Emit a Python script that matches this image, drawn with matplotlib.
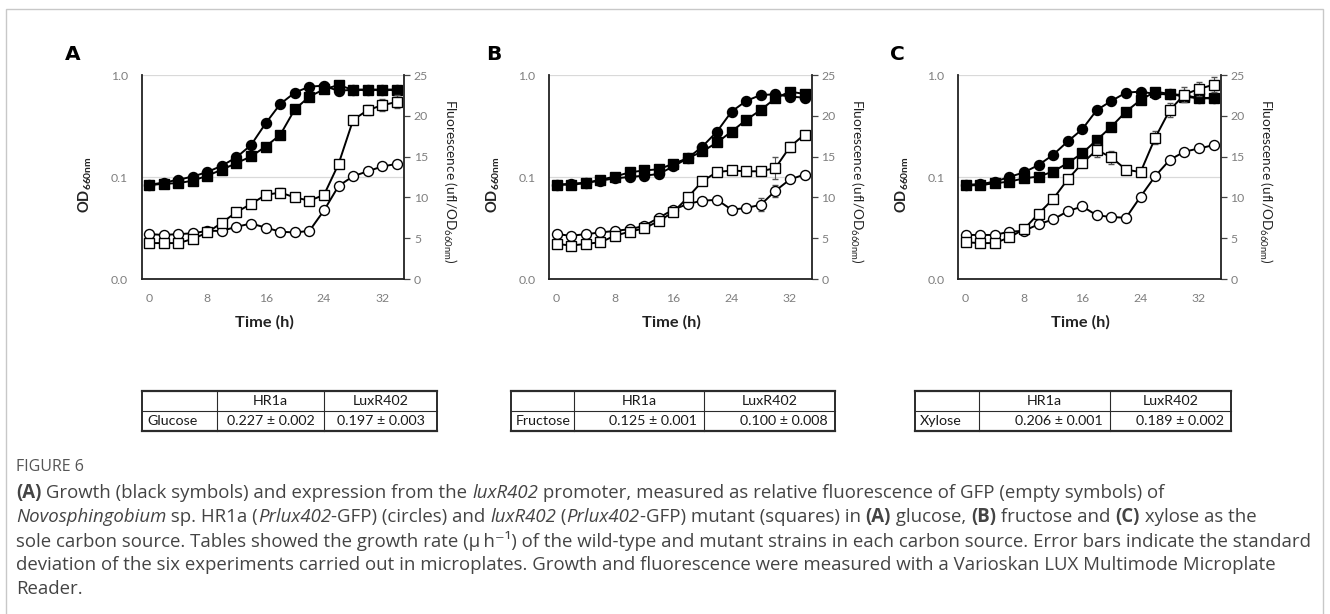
import matplotlib
matplotlib.use("Agg")
import matplotlib.pyplot as plt
from matplotlib.ticker import NullLocator
from matplotlib.patches import Rectangle
from matplotlib.lines import Line2D

W, H = 1330, 614

# ---------------- data ----------------
time_h = [0, 2, 4, 6, 8, 10, 12, 14, 16, 18, 20, 22, 24, 26, 28, 30, 32, 34]

# Panel A - glucose
a_hr1a_od = [0.084, 0.088, 0.094, 0.101, 0.112, 0.129, 0.156, 0.206, 0.336, 0.520, 0.672, 0.769, 0.786, 0.697, 0.72, 0.72, 0.72, 0.72]
a_lux_od = [0.083, 0.086, 0.087, 0.092, 0.103, 0.118, 0.137, 0.159, 0.199, 0.259, 0.461, 0.614, 0.724, 0.798, 0.713, 0.713, 0.713, 0.713]
a_hr1a_fl = [5.5, 5.4, 5.5, 5.6, 5.9, 5.9, 6.4, 6.8, 6.3, 5.8, 5.7, 5.9, 8.4, 11.4, 12.6, 13.2, 13.8, 14.1]
a_lux_fl = [4.4, 4.4, 4.4, 4.9, 5.7, 6.9, 8.2, 9.2, 10.3, 10.6, 10.0, 9.6, 10.3, 14.1, 19.5, 20.7, 21.3, 21.7]
a_hr1a_err = [0, 0, 0, 0, 0, 0, 0, 0, 0, 0, 0, 0, 0, 0, 0, 0.2, 0.2, 0.2]
a_lux_err = [0, 0, 0, 0, 0, 0, 0, 0, 0, 0.6, 0, 0, 0, 0, 0, 0.6, 0.7, 0.8]

# Panel B - fructose
b_hr1a_od = [0.084, 0.086, 0.088, 0.092, 0.097, 0.100, 0.103, 0.107, 0.127, 0.153, 0.199, 0.279, 0.438, 0.557, 0.637, 0.646, 0.614, 0.600]
b_lux_od = [0.084, 0.084, 0.087, 0.094, 0.101, 0.111, 0.116, 0.119, 0.135, 0.153, 0.178, 0.218, 0.279, 0.363, 0.454, 0.591, 0.687, 0.652]
b_hr1a_fl = [5.5, 5.3, 5.5, 5.7, 5.9, 6.1, 6.5, 7.5, 8.5, 9.2, 9.6, 9.7, 8.5, 8.7, 9.1, 10.8, 12.2, 12.8]
b_lux_fl = [4.3, 4.1, 4.3, 4.5, 5.3, 5.8, 6.2, 7.1, 8.2, 10.0, 12.0, 13.1, 13.3, 13.2, 13.2, 13.6, 16.2, 17.7]
b_hr1a_err = [0, 0, 0, 0, 0, 0, 0, 0, 0, 0, 0, 0, 0, 0, 0.8, 0.7, 0, 0]
b_lux_err = [0, 0, 0, 0, 0, 0, 0, 0, 0, 0, 0, 0, 0, 0, 0, 1.3, 0.6, 0]

# Panel C - xylose
c_hr1a_od = [0.084, 0.085, 0.090, 0.100, 0.111, 0.131, 0.165, 0.223, 0.294, 0.454, 0.557, 0.672, 0.687, 0.652, 0.646, 0.637, 0.591, 0.600]
c_lux_od = [0.083, 0.083, 0.087, 0.090, 0.097, 0.101, 0.113, 0.137, 0.171, 0.231, 0.312, 0.438, 0.569, 0.687, 0.652, 0.614, 0.591, 0.591]
c_hr1a_fl = [5.4, 5.4, 5.4, 5.8, 5.9, 6.7, 7.3, 8.3, 8.9, 7.8, 7.6, 7.5, 10.1, 12.6, 14.6, 15.6, 16.0, 16.4]
c_lux_fl = [4.5, 4.4, 4.4, 5.1, 6.1, 8.0, 9.8, 12.2, 14.2, 15.8, 14.9, 13.4, 13.1, 17.3, 20.7, 22.6, 23.3, 23.8]
c_hr1a_err = [0, 0, 0, 0, 0, 0, 0, 0, 0, 0, 0, 0, 0, 0, 0, 0, 0, 0]
c_lux_err = [0, 0, 0, 0, 0, 0, 0, 0, 0, 0.8, 0.8, 0.5, 0, 0.8, 0.9, 0.9, 0.9, 0.9]

panel_letters = ["A", "B", "C"]
x_ticks = [0, 8, 16, 24, 32]
od_ticks = [0.01, 0.1, 1.0]
od_tick_labels = ["0.0", "0.1", "1.0"]
fl_ticks = [0, 5, 10, 15, 20, 25]

# growth-rate tables
carbon_sources = ["Glucose", "Fructose", "Xylose"]
strain_headers = ["HR1a", "LuxR402"]
rate_hr1a = ["0.227 \u00b1 0.002", "0.125 \u00b1 0.001", "0.206 \u00b1 0.001"]
rate_lux = ["0.197 \u00b1 0.003", "0.100 \u00b1 0.008", "0.189 \u00b1 0.002"]

# ---------------- figure ----------------
plt.rcParams["font.family"] = ["Lato", "DejaVu Sans"]
fig = plt.figure(figsize=(W / 100, H / 100), dpi=100)
renderer = fig.canvas.get_renderer()


def fx(x):
    return x / W


def fy(y):
    return 1 - y / H


# outer frame
fig.add_artist(Rectangle((fx(6), -0.1), fx(1323) - fx(6), fy(9) + 0.1,
                         transform=fig.transFigure, fill=False,
                         ec="#c8c8c8", lw=1.0))

panels = [
    (a_hr1a_od, a_lux_od, a_hr1a_fl, a_lux_fl, a_hr1a_err, a_lux_err),
    (b_hr1a_od, b_lux_od, b_hr1a_fl, b_lux_fl, b_hr1a_err, b_lux_err),
    (c_hr1a_od, c_lux_od, c_hr1a_fl, c_lux_fl, c_hr1a_err, c_lux_err),
]
axes_left_px = [141.7, 549.3, 958.3]
letter_pos = [(73, 55), (494, 55), (897, 55)]
ax_top, ax_bot, ax_w = 75, 279, 262.5
tick_grey = "#7f7f7f"
ms = 7.2

for i, (hod, lod, hfl, lfl, herr, lerr) in enumerate(panels):
    left = axes_left_px[i]
    ax = fig.add_axes([fx(left), fy(ax_bot), ax_w / W, (ax_bot - ax_top) / H])
    ax.set_yscale("log")
    ax.set_ylim(0.01, 1.0)
    ax.set_xlim(-1, 35)
    ax.set_yticks(od_ticks)
    ax.set_yticklabels(od_tick_labels)
    ax.yaxis.set_minor_locator(NullLocator())
    ax.set_xticks(x_ticks)
    ax.tick_params(axis="both", length=0, labelcolor=tick_grey, labelsize=8.8)
    ax.tick_params(axis="y", pad=10)
    ax.tick_params(axis="x", pad=10)
    ax.grid(axis="y", color="#d9d9d9", lw=0.9)
    ax.grid(axis="x", visible=False)
    ax.set_axisbelow(True)
    for s in ["top", "right"]:
        ax.spines[s].set_visible(False)
    for s in ["left", "bottom"]:
        ax.spines[s].set_color("#222222")
        ax.spines[s].set_linewidth(1.3)

    ax.plot(time_h, hod, "-o", color="black", mfc="black", mec="black",
            ms=ms, lw=1.4, zorder=3)
    ax.plot(time_h, lod, "-s", color="black", mfc="black", mec="black",
            ms=ms, lw=1.4, zorder=4)

    ax.set_ylabel("OD$_{\\mathregular{660nm}}$", fontweight="bold",
                  fontsize=10.5, color="#222222")
    ax.yaxis.set_label_coords(-0.18, 0.465)
    ax.set_xlabel("Time (h)", fontweight="bold", fontsize=11.8,
                  color="#222222", va="center")
    ax.xaxis.set_label_coords(0.466, -0.211)

    ax2 = ax.twinx()
    ax2.set_ylim(0, 25)
    ax2.set_yticks(fl_ticks)
    ax2.tick_params(axis="y", length=4, width=0.9, direction="out",
                    color="#444444", labelcolor=tick_grey, labelsize=8.8, pad=3)
    for s in ["top", "left", "bottom"]:
        ax2.spines[s].set_visible(False)
    ax2.spines["right"].set_color("#222222")
    ax2.spines["right"].set_linewidth(1.3)

    ax2.errorbar(time_h, hfl, yerr=herr, fmt="-o", color="black",
                 mfc="white", mec="black", mew=1.0, ms=ms, lw=1.4,
                 ecolor="#555555", elinewidth=0.8, capsize=2.2, capthick=0.8)
    ax2.errorbar(time_h, lfl, yerr=lerr, fmt="-s", color="black",
                 mfc="white", mec="black", mew=1.0, ms=ms, lw=1.4,
                 ecolor="#555555", elinewidth=0.8, capsize=2.2, capthick=0.8)
    ax2.set_ylabel("Fluorescence (ufl/OD$_{\\mathregular{660nm}}$)",
                   rotation=270, fontsize=9.8, color="#222222", va="center")
    ax2.yaxis.set_label_coords(1.172, 0.48)

    lx, ly = letter_pos[i]
    fig.text(fx(lx), fy(ly), panel_letters[i], fontsize=14.5,
             fontweight="bold", family=["DejaVu Sans"], ha="center",
             va="center", color="black")

# ---------------- tables ----------------
table_cols = [[142, 217, 324, 437], [511, 574, 704, 835], [915, 979, 1110, 1231]]
table_rows = [391, 411, 431]
value_align = ["center", "right", "right"]
tcol = "#2b2b2b"
for k in range(3):
    xs = table_cols[k]
    for j, y in enumerate(table_rows):
        lw = 0.8 if j == 1 else 1.6
        fig.add_artist(Line2D([fx(xs[0]), fx(xs[-1])], [fy(y), fy(y)],
                              transform=fig.transFigure, color=tcol, lw=lw))
    for j, x in enumerate(xs):
        lw = 1.4 if j in (0, 3) else 0.8
        fig.add_artist(Line2D([fx(x), fx(x)], [fy(table_rows[0]), fy(table_rows[-1])],
                              transform=fig.transFigure, color=tcol, lw=lw))
    yh = (table_rows[0] + table_rows[1]) / 2
    yd = (table_rows[1] + table_rows[2]) / 2
    tkw = dict(fontsize=10.3, color="#1a1a1a", va="center", family=["Lato", "DejaVu Sans"])
    for j, hdr in enumerate(strain_headers):
        fig.text(fx((xs[j + 1] + xs[j + 2]) / 2), fy(yh), hdr, ha="center", **tkw)
    fig.text(fx(xs[0] + 5), fy(yd), carbon_sources[k], ha="left", **tkw)
    for j, val in enumerate([rate_hr1a[k], rate_lux[k]]):
        if value_align[k] == "center":
            fig.text(fx((xs[j + 1] + xs[j + 2]) / 2), fy(yd), val, ha="center", **tkw)
        else:
            fig.text(fx(xs[j + 2] - 7), fy(yd), val, ha="right", **tkw)

# ---------------- caption ----------------
cap_font = ["Open Sans", "DejaVu Sans"]
cap_size = 13.4
cap_color = "#444444"


def piece_width(s, **kw):
    t1 = fig.text(0, 0, "|" + s + "|", **kw)
    w1 = t1.get_window_extent(renderer).width
    t1.remove()
    t2 = fig.text(0, 0, "||", **kw)
    w2 = t2.get_window_extent(renderer).width
    t2.remove()
    return w1 - w2


def rich_line(x_px, y_px, pieces):
    x = x_px
    for s, style in pieces:
        kw = dict(fontsize=cap_size, color=cap_color, family=cap_font)
        if style == "b":
            kw["fontweight"] = "bold"
        elif style == "i":
            kw["fontstyle"] = "italic"
        fig.text(fx(x), fy(y_px), s, ha="left", va="center", **kw)
        x += piece_width(s, **kw)


fig.text(fx(16), fy(467), "FIGURE 6", fontsize=11.5, color="#555555",
         family=cap_font, ha="left", va="center")

caption_lines = [
    [("(A)", "b"), (" Growth (black symbols) and expression from the ", "r"),
     ("luxR402", "i"),
     (" promoter, measured as relative fluorescence of GFP (empty symbols) of", "r")],
    [("Novosphingobium", "i"), (" sp. HR1a (", "r"), ("Prlux402", "i"),
     ("-GFP) (circles) and ", "r"), ("luxR402", "i"), (" (", "r"),
     ("Prlux402", "i"), ("-GFP) mutant (squares) in ", "r"), ("(A)", "b"),
     (" glucose, ", "r"), ("(B)", "b"), (" fructose and ", "r"), ("(C)", "b"),
     (" xylose as the", "r")],
    [("sole carbon source. Tables showed the growth rate (\u03bc\u2009h\u207b\u00b9) of the wild-type and "
      "mutant strains in each carbon source. Error bars indicate the standard", "r")],
    [("deviation of the six experiments carried out in microplates. Growth and fluorescence "
      "were measured with a Varioskan LUX Multimode Microplate", "r")],
    [("Reader.", "r")],
]
cap_y = [493, 517, 541, 565, 589]
for line, y in zip(caption_lines, cap_y):
    rich_line(16, y, line)

fig.savefig("out.png", dpi=100)
